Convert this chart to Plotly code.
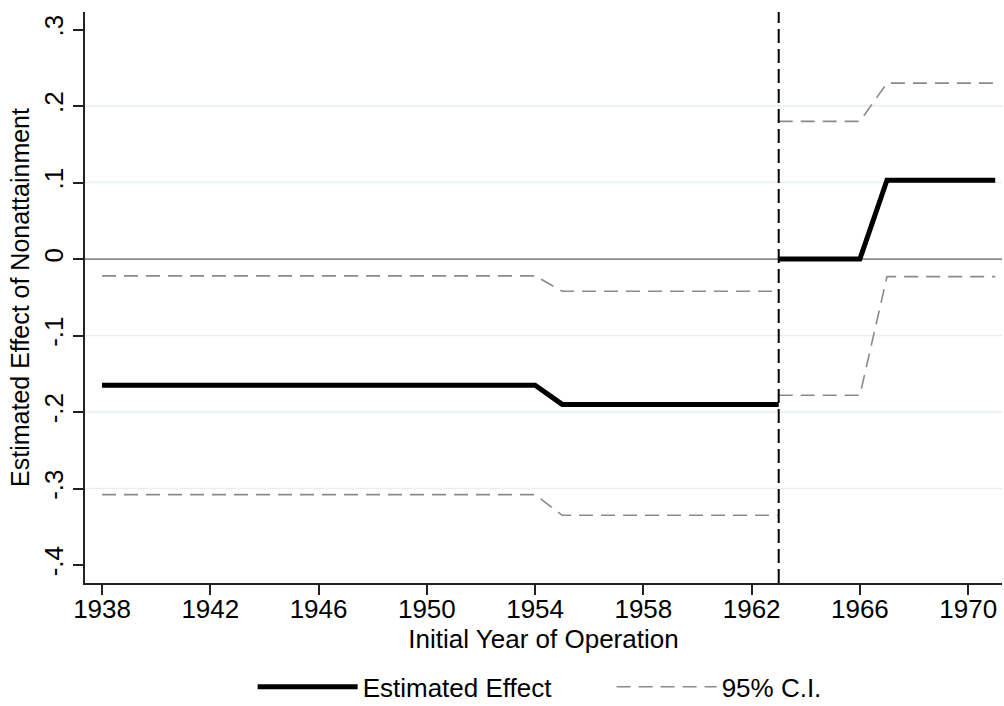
import plotly.graph_objects as go

# ---- data ----
pre_years = [1938, 1939, 1940, 1941, 1942, 1943, 1944, 1945, 1946, 1947, 1948, 1949, 1950,
             1951, 1952, 1953, 1954, 1955, 1956, 1957, 1958, 1959, 1960, 1961, 1962, 1963]
pre_effect = [-0.165, -0.165, -0.165, -0.165, -0.165, -0.165, -0.165, -0.165, -0.165,
              -0.165, -0.165, -0.165, -0.165, -0.165, -0.165, -0.165, -0.165,
              -0.19, -0.19, -0.19, -0.19, -0.19, -0.19, -0.19, -0.19, -0.19]
pre_upper = [-0.022, -0.022, -0.022, -0.022, -0.022, -0.022, -0.022, -0.022, -0.022,
             -0.022, -0.022, -0.022, -0.022, -0.022, -0.022, -0.022, -0.022,
             -0.042, -0.042, -0.042, -0.042, -0.042, -0.042, -0.042, -0.042, -0.042]
pre_lower = [-0.308, -0.308, -0.308, -0.308, -0.308, -0.308, -0.308, -0.308, -0.308,
             -0.308, -0.308, -0.308, -0.308, -0.308, -0.308, -0.308, -0.308,
             -0.335, -0.335, -0.335, -0.335, -0.335, -0.335, -0.335, -0.335, -0.335]

post_years = [1963, 1964, 1965, 1966, 1967, 1968, 1969, 1970, 1971]
post_effect = [0.0, 0.0, 0.0, 0.0, 0.103, 0.103, 0.103, 0.103, 0.103]
post_upper = [0.18, 0.18, 0.18, 0.18, 0.23, 0.23, 0.23, 0.23, 0.23]
post_lower = [-0.178, -0.178, -0.178, -0.178, -0.023, -0.023, -0.023, -0.023, -0.023]

treatment_year = 1963
x_tick_vals = [1938, 1942, 1946, 1950, 1954, 1958, 1962, 1966, 1970]
y_tick_vals = [-0.4, -0.3, -0.2, -0.1, 0, 0.1, 0.2, 0.3]
y_tick_text = ["-.4", "-.3", "-.2", "-.1", "0", ".1", ".2", ".3"]
grid_values = [-0.3, -0.2, -0.1, 0.1, 0.2]

FONT = "Liberation Sans, Arial, sans-serif"
CI_COLOR = "#8a8a8a"
CI_DASH = "14px,8px"

fig = go.Figure()

# estimated effect
fig.add_trace(go.Scatter(x=pre_years, y=pre_effect, mode="lines",
                         line=dict(color="black", width=5),
                         name="Estimated Effect", legendgroup="est", showlegend=True))
fig.add_trace(go.Scatter(x=post_years, y=post_effect, mode="lines",
                         line=dict(color="black", width=5),
                         name="Estimated Effect", legendgroup="est", showlegend=False))

# CI traces
fig.add_trace(go.Scatter(x=pre_years, y=pre_upper, mode="lines",
                         line=dict(color=CI_COLOR, width=1.6, dash=CI_DASH),
                         name="95% C.I.", legendgroup="ci", showlegend=True))
fig.add_trace(go.Scatter(x=pre_years, y=pre_lower, mode="lines",
                         line=dict(color=CI_COLOR, width=1.6, dash=CI_DASH),
                         name="95% C.I.", legendgroup="ci", showlegend=False))
fig.add_trace(go.Scatter(x=post_years, y=post_upper, mode="lines",
                         line=dict(color=CI_COLOR, width=1.6, dash=CI_DASH),
                         name="95% C.I.", legendgroup="ci", showlegend=False))
fig.add_trace(go.Scatter(x=post_years, y=post_lower, mode="lines",
                         line=dict(color=CI_COLOR, width=1.6, dash=CI_DASH),
                         name="95% C.I.", legendgroup="ci", showlegend=False))

shapes = []
for g in grid_values:
    shapes.append(dict(type="line", xref="paper", x0=0, x1=1, yref="y", y0=g, y1=g,
                       line=dict(color="#e5eef1", width=1.5), layer="below"))
# zero reference line
shapes.append(dict(type="line", xref="paper", x0=0, x1=1, yref="y", y0=0, y1=0,
                   line=dict(color="#8a8a8a", width=1.8), layer="below"))
# vertical dashed line
shapes.append(dict(type="line", xref="x", x0=treatment_year, x1=treatment_year,
                   yref="paper", y0=0, y1=1,
                   line=dict(color="black", width=2, dash="14px,6px")))

fig.update_layout(
    width=1004, height=706,
    paper_bgcolor="white", plot_bgcolor="white",
    margin=dict(l=85, r=2, t=12, b=123, autoexpand=False),
    font=dict(family=FONT, size=26, color="black"),
    shapes=shapes,
    showlegend=True,
    legend=dict(orientation="h", x=0.1828, xanchor="left", y=-0.182, yanchor="middle",
                font=dict(size=26), itemwidth=100, entrywidth=244,
                entrywidthmode="pixels", traceorder="normal",
                bgcolor="rgba(0,0,0,0)"),
    xaxis=dict(range=[1937.37, 1971.25], tickvals=x_tick_vals, automargin=False,
               showgrid=False, zeroline=False, showline=True, linecolor="#222",
               linewidth=1.8, ticks="outside", ticklen=10, tickwidth=1.8,
               tickcolor="#222", tickfont=dict(size=26), ticklabelstandoff=-8,
               title=dict(text="Initial Year of Operation", font=dict(size=26),
                          standoff=4)),
    yaxis=dict(range=[-0.4235, 0.323], tickvals=y_tick_vals, ticktext=y_tick_text,
               tickangle=-90, showgrid=False, zeroline=False, showline=True,
               automargin=False,
               linecolor="#222", linewidth=1.8, ticks="outside", ticklen=10,
               tickwidth=1.8, tickcolor="#222", tickfont=dict(size=26),
               title=dict(text="Estimated Effect of Nonattainment", font=dict(size=25),
                          standoff=2)),
)

fig.write_html("out.html",
               config={"displayModeBar": False},
               post_script="document.body.style.margin='0';"
                           "document.body.style.overflow='hidden';")
